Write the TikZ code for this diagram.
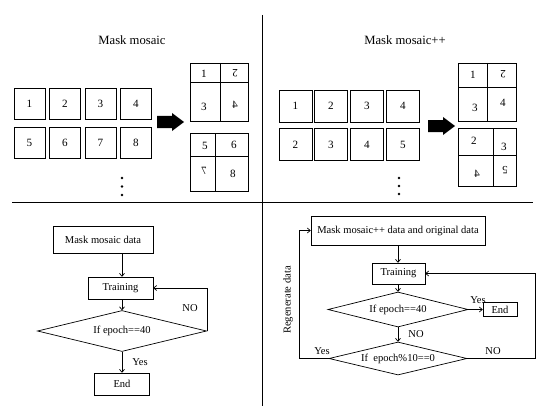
\documentclass[tikz,border=0pt]{standalone}
\usepackage{fontspec}
\setmainfont{Liberation Serif}
\usetikzlibrary{calc}
\usetikzlibrary{arrows.meta}
\usetikzlibrary{positioning,shapes.geometric}

\begin{document}
\begin{tikzpicture}[x=0.3mm,y=-0.3mm]

		\def\lw{0.6pt}

		\tikzset{line/.style={draw,line width=\lw}}
		\tikzset{arrow/.style={line,->,>={To[length=3pt,width=4.5pt]}}}
		\tikzset{cell/.style={line,shape=rectangle,inner sep=0pt,minimum width=9.3mm,minimum height=9.3mm,font=\fontsize{9.5}{10}\selectfont}}
		\tikzset{block/.style={line,shape=rectangle,inner sep=0pt,font=\fontsize{9}{10}\selectfont}}
		\tikzset{cond/.style={line,shape=diamond,aspect=4,inner sep=0pt,font=\fontsize{9}{10}\selectfont}}
		\tikzset{title/.style={font=\fontsize{10.8}{12}\selectfont}}
		\tikzset{lbl/.style={font=\fontsize{9}{10}\selectfont,inner sep=1pt}}
		\tikzset{num/.style={font=\fontsize{9.5}{10}\selectfont,inner sep=0pt}}

		% Mosaic: id/split x/split y
		\tikzset{pics/mosaic/.style args={#1/#2/#3}{code={%
							\node[inner sep=0pt,minimum width=17.4mm,minimum height=17.4mm] (#1) at (29,29) {};
							\draw[line width=\lw] (0,0) rectangle (58,58);
							\draw[line width=\lw] (#2,0) -- (#2,58);
							\draw[line width=\lw] (0,#3) -- (58,#3);
						}}}

		% Block arrow, drawn from its tail
		\tikzset{pics/fat/.style={code={%
							\fill (0,-6) -- (15,-6) -- (15,-9) -- (27,0) -- (15,9) -- (15,6) -- (0,6) -- cycle;
						}}}

		\useasboundingbox (0,0) rectangle (550,417);

		\draw[line width=\lw] (262,15) -- (262,406);
		\draw[line width=\lw] (12,202) -- (533,202);

		\node[title] (t1) at (132,40) {Mask mosaic};
		\node[title] (t2) at (405,40) {Mask mosaic++};

		\node[cell] (a1) at (29.5,104) {1};
		\node[cell] (a2) at (65,104) {2};
		\node[cell] (a3) at (100.5,104) {3};
		\node[cell] (a4) at (136,104) {4};
		\node[cell] (a5) at (29.5,142.5) {5};
		\node[cell] (a6) at (65,142.5) {6};
		\node[cell] (a7) at (100.5,142.5) {7};
		\node[cell] (a8) at (136,142.5) {8};

		\fill (122,178) circle (1.1pt);
		\fill (122,186.5) circle (1.1pt);
		\fill (122,195) circle (1.1pt);

		\pic[] at (157,122) {fat};

		\pic[] at (190,63) {mosaic=m1/30/19};
		\pic[] at (190,133) {mosaic=m2/25/23};

		\node[num] (m1-1) at (204,74) {1};
		\node[num,rotate=180] (m1-2) at (235,73) {2};
		\node[num] (m1-3) at (204,107) {3};
		\node[num,xscale=-1] (m1-4) at (235,105) {4};
		\node[num] (m2-1) at (205,146) {5};
		\node[num] (m2-2) at (234,145) {6};
		\node[num,xscale=-1] (m2-3) at (204,171) {7};
		\node[num] (m2-4) at (233,174) {8};

		\node[cell,minimum width=9.9mm,minimum height=9.6mm] (b1) at (295.5,106) {1};
		\node[cell,minimum width=9.9mm,minimum height=9.6mm] (b2) at (331,106) {2};
		\node[cell,minimum width=9.9mm,minimum height=9.6mm] (b3) at (367,106) {3};
		\node[cell,minimum width=9.9mm,minimum height=9.6mm] (b4) at (403,106) {4};
		\node[cell,minimum width=9.9mm,minimum height=9.6mm] (b5) at (295.5,144.5) {2};
		\node[cell,minimum width=9.9mm,minimum height=9.6mm] (b6) at (331,144.5) {3};
		\node[cell,minimum width=9.9mm,minimum height=9.6mm] (b7) at (367,144.5) {4};
		\node[cell,minimum width=9.9mm,minimum height=9.6mm] (b8) at (403,144.5) {5};

		\fill (399,178) circle (1.1pt);
		\fill (399,186) circle (1.1pt);
		\fill (399,194) circle (1.1pt);

		\pic[] at (428,126) {fat};

		\pic[] at (458,63) {mosaic=m3/29/24};
		\pic[] at (458,128) {mosaic=m4/35/27};

		\node[num] (m3-1) at (473,75) {1};
		\node[num,rotate=180] (m3-2) at (503,74) {2};
		\node[num] (m3-3) at (475,108) {3};
		\node[num] (m3-4) at (503,103) {4};
		\node[num] (m4-1) at (474,141) {2};
		\node[num] (m4-2) at (504,147) {3};
		\node[num,xscale=-1] (m4-3) at (477,174) {4};
		\node[num,rotate=180] (m4-4) at (505,170) {5};

		\node[block,minimum width=30mm,minimum height=8.1mm] (src1) at (103,239.5) {Mask mosaic data};
		\node[block,minimum width=19.5mm,minimum height=6.6mm] (train1) at (120.5,288) {Training};
		\node[cond,minimum width=50.7mm,minimum height=12.3mm] (test1) at (122,331) {If epoch==40};
		\node[block,minimum width=16.5mm,minimum height=6.6mm] (end1) at (122,384) {End};

		\path[arrow] (test1.north |- src1.south) -- (test1.north |- train1.north);
		\path[arrow] (test1.north |- train1.south) -- (test1.north);
		\path[arrow] (test1.south) -- (end1.north);
		\path[arrow] (test1.east) |- (train1.east);

		\node[lbl] (yes1) at (140,362) {Yes};
		\node[lbl] (no1) at (190,308) {NO};

		\node[block,minimum width=52.2mm,minimum height=8.7mm] (src2) at (398,230.5) {Mask mosaic++ data and original data};
		\node[block,minimum width=15.9mm,minimum height=6.3mm] (train2) at (398.5,273.5) {Training};
		\node[cond,minimum width=42mm,minimum height=10.5mm] (test2) at (398,309.5) {If epoch==40};
		\node[block,minimum width=10.2mm,minimum height=4.2mm] (end2) at (500,309.5) {End};
		\node[cond,minimum width=41.4mm,minimum height=9.9mm] (test3) at (398,358.5) {If\ \ epoch\%10==0};

		\coordinate (back) at (299,358.5);
		\coordinate (loop) at (535,358.5);

		\path[arrow] (src2.south) -- (src2.south |- train2.north);
		\path[arrow] (test2.north |- train2.south) -- (test2.north);
		\path[arrow] (test2.east) -- (end2.west);
		\path[arrow] (test2.south) -- (test3.north);
		\path[arrow] (test3.west) -- (back) |- (src2.west);
		\path[arrow] (test3.east) -- (loop) |- (train2.east);

		\node[lbl] (yes2) at (478,300) {Yes};
		\node[lbl] (no2) at (416,334) {NO};
		\node[lbl] (yes3) at (322,351) {Yes};
		\node[lbl] (no3) at (493,351) {NO};
		\node[lbl,rotate=90] (regen) at (288,300) {Regenerate data};

	\end{tikzpicture}
\end{document}
